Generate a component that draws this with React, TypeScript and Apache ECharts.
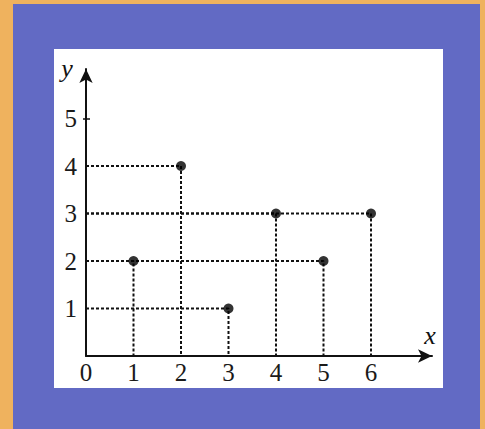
import React, { useEffect, useRef } from "react";
import * as echarts from "echarts";

const xValues = [1, 2, 3, 4, 5, 6];
const yValues = [2, 4, 1, 3, 2, 3];
const xTickLabels = [0, 1, 2, 3, 4, 5, 6];
const yTickLabels = [1, 2, 3, 4, 5];
const yMarkedTick = [5];

const FONT = '"Liberation Serif", "DejaVu Serif", serif';

export default function App() {
  const ref = useRef<HTMLDivElement>(null);
  useEffect(() => {
    if (!ref.current) return;
    const chart = echarts.init(ref.current, null, { renderer: "svg" });
    const unit = 47.5;
    const gridLeft = 86;
    const gridTop = 69;
    const gridW = 346;
    const gridH = 287;
    const labelText = { color: "#1a1a1a", fontFamily: FONT, fontSize: 25 };
    const guideSeries = xValues.map((x, i) => ({
      type: "line",
      data: [
        [0, yValues[i]],
        [x, yValues[i]],
        [x, 0],
      ],
      showSymbol: false,
      symbol: "none",
      silent: true,
      z: 2,
      lineStyle: { color: "#111", width: 2, type: [3, 2] },
    }));
    chart.setOption({
      animation: false,
      backgroundColor: "#EFB25E",
      textStyle: { fontFamily: FONT },
      graphic: [
        { type: "rect", shape: { x: 13, y: 4, width: 467, height: 425 }, style: { fill: "#626AC4" }, z: -10 },
        { type: "rect", shape: { x: 54, y: 49, width: 389, height: 339 }, style: { fill: "#ffffff" }, z: -9 },
        {
          type: "text",
          x: 67,
          y: 68,
          style: { text: "y", font: `italic 26px ${FONT}`, fill: "#111", align: "center", verticalAlign: "middle" },
          z: 10,
        },
        {
          type: "text",
          x: 430,
          y: 335,
          style: { text: "x", font: `italic 26px ${FONT}`, fill: "#111", align: "center", verticalAlign: "middle" },
          z: 10,
        },
      ],
      grid: { left: gridLeft, top: gridTop, width: gridW, height: gridH, containLabel: false },
      xAxis: {
        type: "value",
        min: 0,
        max: gridW / unit,
        interval: 1,
        splitLine: { show: false },
        axisLine: {
          show: true,
          onZero: false,
          symbol: ["none", "arrow"],
          symbolSize: [10, 14],
          lineStyle: { color: "#111", width: 2 },
        },
        axisTick: { show: false },
        axisLabel: {
          customValues: xTickLabels,
          ...labelText,
          margin: 4,
        },
      },
      yAxis: [
        {
          type: "value",
          min: 0,
          max: gridH / unit,
          interval: 1,
          position: "left",
          splitLine: { show: false },
          axisLine: {
            show: true,
            onZero: false,
            symbol: ["none", "arrow"],
            symbolSize: [10, 14],
            lineStyle: { color: "#111", width: 2 },
          },
          axisTick: { show: true, customValues: yMarkedTick, length: 3, lineStyle: { color: "#111", width: 1.5 } },
          axisLabel: {
            customValues: yTickLabels,
            ...labelText,
            margin: 9,
          },
        },
        {
          type: "value",
          min: 0,
          max: gridH / unit,
          interval: 1,
          position: "left",
          offset: 0,
          splitLine: { show: false },
          axisLine: { show: false },
          axisTick: { show: true, inside: true, customValues: yMarkedTick, length: 4, lineStyle: { color: "#111", width: 1.5 } },
          axisLabel: { show: false },
        },
      ],
      series: [
        ...guideSeries,
        {
          type: "scatter",
          data: xValues.map((x, i) => [x, yValues[i]]),
          symbol: "circle",
          symbolSize: 10,
          itemStyle: { color: "#000" },
          z: 5,
          silent: true,
        },
      ],
    });
    return () => chart.dispose();
  }, []);
  return <div ref={ref} style={{ position: "fixed", left: 0, top: 0, width: 485, height: 429 }} />;
}
